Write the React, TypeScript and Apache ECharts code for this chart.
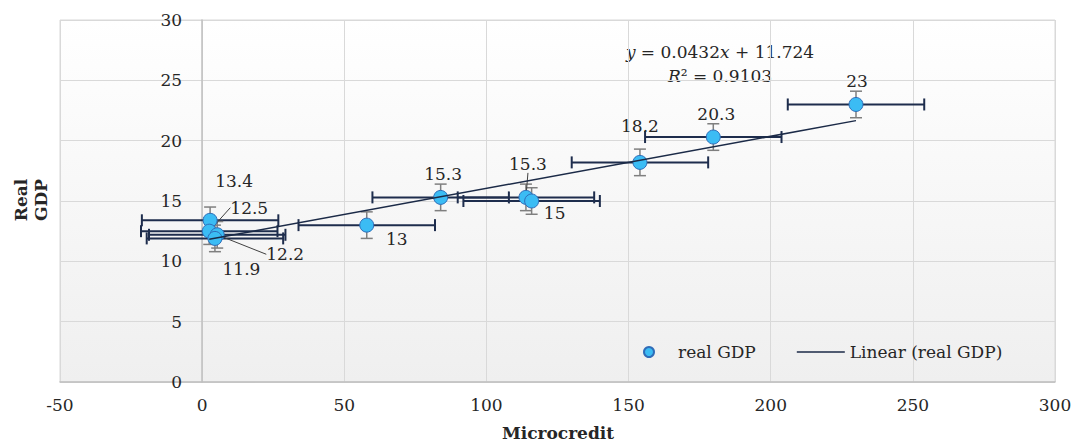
import React, { useEffect, useRef } from 'react';
import * as echarts from 'echarts';

// ---- data ----
const microcredit = [2.8, 2.5, 5.3, 4.5, 57.9, 83.9, 113.9, 115.9, 154.0, 179.8, 230.0];
const realGDP = [13.4, 12.5, 12.2, 11.9, 13, 15.3, 15.3, 15, 18.2, 20.3, 23];
const xErrorAmount = 24;
const yErrorAmount = 1.1;
const trendSlope = 0.0432;
const trendIntercept = 11.724;
const trendR2 = 0.9103;
const xAxisMin = -50;
const xAxisMax = 300;
const xAxisStep = 50;
const yAxisMin = 0;
const yAxisMax = 30;
const yAxisStep = 5;

// label placement (pixel offsets from each point) and which labels have a leader line
const labelOffsets = [
  [24, -39.5], [40, -23.5], [68, 19.5], [26.5, 31], [30, 14], [2.5, -23],
  [2, -33], [23, 12], [0, -36], [3, -22.7], [1, -23.5],
];
const leaderLines = [false, true, true, false, false, false, true, false, false, false, false];

const FONT = '"DejaVu Serif", serif';
const TEXT = '#262626';

const GRID_LEFT = 60;
const GRID_RIGHT = 18;

export default function App() {
  const ref = useRef<HTMLDivElement>(null);

  useEffect(() => {
    if (!ref.current) return;
    const chart = echarts.init(ref.current, null, { renderer: 'svg' });

    const points = microcredit.map((x, i) => ({
      value: [x, realGDP[i]],
      labelLine: { show: leaderLines[i] },
    }));

    const xMinData = Math.min(...microcredit);
    const xMaxData = Math.max(...microcredit);
    const trend = [
      [xMinData, trendIntercept + trendSlope * xMinData],
      [xMaxData, trendIntercept + trendSlope * xMaxData],
    ];

    // pixel distance from the plot's left edge to x = 0 (y axis crosses there)
    const plotWidth = 1073 - GRID_LEFT - GRID_RIGHT;
    const zeroOffset = ((0 - xAxisMin) / (xAxisMax - xAxisMin)) * plotWidth;

    const option: any = {
      animation: false,
      backgroundColor: '#ffffff',
      textStyle: { fontFamily: FONT },
      grid: {
        left: GRID_LEFT,
        right: GRID_RIGHT,
        top: 20,
        bottom: 61,
        containLabel: false,
        outerBoundsMode: 'none',
        show: true,
        borderColor: '#d9d9d9',
        borderWidth: 1,
        backgroundColor: new echarts.graphic.LinearGradient(0, 0, 0, 1, [
          { offset: 0, color: '#ffffff' },
          { offset: 1, color: '#efefef' },
        ]),
      },
      xAxis: {
        type: 'value',
        min: xAxisMin,
        max: xAxisMax,
        interval: xAxisStep,
        axisLine: { show: true, onZero: false, lineStyle: { color: '#bfbfbf', width: 1.5 } },
        axisTick: { show: false },
        axisLabel: {
          color: TEXT,
          fontFamily: FONT,
          fontSize: 17,
          margin: 14,
          showMinLabel: true,
          showMaxLabel: true,
          hideOverlap: false,
        },
        splitLine: { show: true, lineStyle: { color: '#d9d9d9', width: 1 } },
      },
      yAxis: {
        type: 'value',
        min: yAxisMin,
        max: yAxisMax,
        interval: yAxisStep,
        position: 'left',
        offset: -zeroOffset,
        axisLine: { show: true, onZero: false, lineStyle: { color: '#bfbfbf', width: 1.5 } },
        axisTick: { show: false },
        axisLabel: {
          color: TEXT,
          fontFamily: FONT,
          fontSize: 17,
          margin: 20,
          showMinLabel: true,
          showMaxLabel: true,
          hideOverlap: false,
        },
        splitLine: { show: true, lineStyle: { color: '#d9d9d9', width: 1 } },
      },
      legend: {
        show: true,
        left: 638,
        top: 337,
        orient: 'horizontal',
        itemWidth: 48,
        itemHeight: 10,
        itemGap: 41,
        selectedMode: false,
        textStyle: { color: TEXT, fontFamily: FONT, fontSize: 17, lineHeight: 20 },
        data: [
          { name: 'real GDP', icon: 'circle' },
          { name: 'Linear (real GDP)', icon: 'path://M0,0H48V1.4H0Z' },
        ],
      },
      series: [
        {
          type: 'custom',
          z: 2,
          silent: true,
          data: microcredit.map((x, i) => [x, realGDP[i]]),
          renderItem: (params: any, api: any) => {
            const x = api.value(0);
            const y = api.value(1);
            const l = api.coord([x - xErrorAmount, y]);
            const r = api.coord([x + xErrorAmount, y]);
            const t = api.coord([x, y + yErrorAmount]);
            const b = api.coord([x, y - yErrorAmount]);
            const cap = 6;
            const gray = { stroke: '#7f7f7f', lineWidth: 1.5 };
            const navy = { stroke: '#1e2d4d', lineWidth: 2 };
            return {
              type: 'group',
              children: [
                { type: 'line', shape: { x1: t[0], y1: t[1], x2: b[0], y2: b[1] }, style: gray },
                { type: 'line', shape: { x1: t[0] - cap, y1: t[1], x2: t[0] + cap, y2: t[1] }, style: gray },
                { type: 'line', shape: { x1: b[0] - cap, y1: b[1], x2: b[0] + cap, y2: b[1] }, style: gray },
                { type: 'line', shape: { x1: l[0], y1: l[1], x2: r[0], y2: r[1] }, style: navy },
                { type: 'line', shape: { x1: l[0], y1: l[1] - cap, x2: l[0], y2: l[1] + cap }, style: navy },
                { type: 'line', shape: { x1: r[0], y1: r[1] - cap, x2: r[0], y2: r[1] + cap }, style: navy },
              ],
            };
          },
        },
        {
          name: 'real GDP',
          type: 'scatter',
          z: 3,
          symbol: 'circle',
          symbolSize: 14,
          itemStyle: { color: '#3bbcf4', borderColor: '#2f6cb8', borderWidth: 1, opacity: 1 },
          data: points,
          label: {
            show: true,
            position: 'inside',
            formatter: (p: any) => String(p.value[1]),
            color: TEXT,
            fontFamily: FONT,
            fontSize: 17,
          },
          labelLine: { show: false, lineStyle: { color: '#404040', width: 1 } },
          labelLayout: (p: any) => ({
            dx: labelOffsets[p.dataIndex][0],
            dy: labelOffsets[p.dataIndex][1],
          }),
        },
        {
          name: 'Linear (real GDP)',
          type: 'line',
          z: 4,
          symbol: 'none',
          showSymbol: false,
          silent: true,
          lineStyle: { color: '#1b2a47', width: 1.5 },
          itemStyle: { color: '#1b2a47' },
          data: trend,
        },
      ],
      graphic: [
        {
          type: 'text',
          x: 720,
          y: 52,
          style: {
            text: '{i|y} = 0.0432{i|x} + 11.724',
            rich: { i: { fontStyle: 'italic', fontFamily: FONT, fontSize: 17, fill: TEXT } },
            font: `17px ${FONT}`,
            fill: TEXT,
            align: 'center',
            verticalAlign: 'middle',
          },
        },
        {
          type: 'text',
          x: 720,
          y: 76,
          style: {
            text: '{i|R}² = ' + trendR2.toFixed(4),
            rich: { i: { fontStyle: 'italic', fontFamily: FONT, fontSize: 17, fill: TEXT } },
            font: `17px ${FONT}`,
            fill: TEXT,
            align: 'center',
            verticalAlign: 'middle',
          },
        },
        {
          type: 'text',
          x: 31,
          y: 200,
          rotation: Math.PI / 2,
          style: {
            text: 'Real\nGDP',
            font: `bold 17px ${FONT}`,
            lineHeight: 20,
            fill: TEXT,
            align: 'center',
            verticalAlign: 'middle',
          },
        },
        {
          type: 'text',
          x: 558,
          y: 433,
          style: {
            text: 'Microcredit',
            font: `bold 17px ${FONT}`,
            fill: TEXT,
            align: 'center',
            verticalAlign: 'middle',
          },
        },
      ],
    };

    chart.setOption(option);
    return () => chart.dispose();
  }, []);

  return (
    <div
      ref={ref}
      style={{ position: 'fixed', left: 0, top: 0, width: 1073, height: 443 }}
    />
  );
}
